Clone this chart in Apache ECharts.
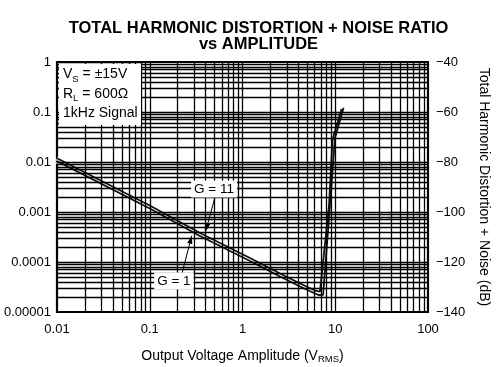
<!DOCTYPE html>
<html><head><meta charset="utf-8">
<script src="https://cdn.jsdelivr.net/npm/echarts@6/dist/echarts.min.js"></script>
<style>html,body{margin:0;padding:0;background:#fff}#c{width:502px;height:367px}</style>
</head><body><div id="c"></div>
<script>
// ---- data ----
const xTicks = [0.01, 0.1, 1, 10, 100];
const xTickLabels = ['0.01', '0.1', '1', '10', '100'];
const yTicks = [0.00001, 0.0001, 0.001, 0.01, 0.1, 1];
const yTickLabels = ['0.00001', '0.0001', '0.001', '0.01', '0.1', '1'];
const dbMin = -140, dbMax = -40, dbStep = 20;

const g11X = [0.01, 0.1, 0.348, 1.205, 2.54, 4.17, 6.05, 6.85, 7.15, 8.57, 9.33, 11.7];
const g11Y = [0.0119, 0.00135, 0.00038, 0.00012, 0.0000589, 0.0000372, 0.0000269, 0.0000255, 0.000025, 0.00138, 0.0275, 0.115];
const g1X = [0.01, 0.1, 0.348, 1.205, 2.54, 4.17, 6.05, 6.6, 7.4, 7.75, 8.78, 9.93, 12.3];
const g1Y = [0.0104, 0.001175, 0.000331, 0.000105, 0.0000513, 0.0000324, 0.0000234, 0.0000219, 0.0000221, 0.0000224, 0.00138, 0.0302, 0.122];

// annotation anchors (data units)
const annG11 = { text: 'G = 11', label: [0.493, 0.00288], tail: [0.506, 0.002], tip: [0.399, 0.000398] };
const annG1 = { text: 'G = 1', label: [0.182, 0.0000417], tail: [0.223, 0.00006], tip: [0.2855, 0.000347] };

const FONT = '"Liberation Sans", Arial, Helvetica, sans-serif';

function zip(a, b) { return a.map((v, i) => [v, b[i]]); }
function lookup(ticks, labels, v) {
  for (let i = 0; i < ticks.length; i++) {
    if (Math.abs(Math.log10(v) - Math.log10(ticks[i])) < 1e-6) return labels[i];
  }
  return '';
}
// log grid lines (major + minor 2..9), excluding plot edges
const gridX = [];
for (let d = -2; d <= 1; d++) for (let m = 1; m <= 9; m++) { if (d === -2 && m === 1) continue; gridX.push(m * Math.pow(10, d)); }
const gridY = [];
for (let d = -5; d <= -1; d++) for (let m = 1; m <= 9; m++) { if (d === -5 && m === 1) continue; gridY.push(m * Math.pow(10, d)); }

const chart = echarts.init(document.getElementById('c'), null, { renderer: 'canvas' });
const GRID = { left: 57, top: 62, width: 371, height: 250 };

const option = {
  animation: false,
  backgroundColor: '#fff',
  title: {
    text: 'TOTAL HARMONIC DISTORTION + NOISE RATIO\nvs AMPLITUDE',
    left: 258.5, top: 20, textAlign: 'center', padding: 0,
    textStyle: { fontSize: 16.5, fontWeight: 'bold', lineHeight: 16, color: '#000', fontFamily: FONT }
  },
  grid: Object.assign({ show: true, borderColor: '#000', borderWidth: 2.2, backgroundColor: 'transparent', containLabel: false, outerBoundsMode: 'none' }, GRID),
  xAxis: {
    type: 'log', logBase: 10, min: 0.01, max: 100,
    axisLine: { show: false }, axisTick: { show: false }, splitLine: { show: false },
    axisLabel: { fontSize: 13, color: '#000', fontFamily: FONT, margin: 11, formatter: v => lookup(xTicks, xTickLabels, v) },
    name: '{n|Output Voltage Amplitude (V}{s|RMS}{n|)}',
    nameLocation: 'middle', nameGap: 36,
    nameTextStyle: {
      fontFamily: FONT, color: '#000', fontSize: 14,
      rich: { n: { fontSize: 14, fontFamily: FONT, color: '#000', lineHeight: 16 },
              s: { fontSize: 9.5, fontFamily: FONT, color: '#000', lineHeight: 10, verticalAlign: 'bottom' } }
    }
  },
  yAxis: [{
    type: 'log', logBase: 10, min: 0.00001, max: 1,
    axisLine: { show: false }, axisTick: { show: false }, splitLine: { show: false },
    axisLabel: { fontSize: 13, color: '#000', fontFamily: FONT, margin: 6, formatter: v => lookup(yTicks, yTickLabels, v) }
  }, {
    type: 'value', position: 'right', min: dbMin, max: dbMax, interval: dbStep,
    axisLine: { show: false }, axisTick: { show: false }, splitLine: { show: false },
    axisLabel: { fontSize: 13, color: '#000', fontFamily: FONT, margin: 8, formatter: v => String(v).replace('-', '\u2212') },
    name: 'Total Harmonic Distortion + Noise (dB)',
    nameLocation: 'middle', nameGap: 49, nameRotate: -90,
    nameTextStyle: { fontSize: 14, color: '#000', fontFamily: FONT }
  }],
  series: [
    {
      type: 'line', name: 'grid', data: [], z: 1, silent: true,
      markLine: {
        silent: true, symbol: ['none', 'none'], animation: false, precision: 12,
        label: { show: false },
        lineStyle: { color: '#000', width: 1.3, type: 'solid', opacity: 1 },
        emphasis: { disabled: true },
        data: gridX.map(v => ({ xAxis: v })).concat(gridY.map(v => ({ yAxis: v })))
      }
    },
    { type: 'line', name: 'G = 11 halo', data: zip(g11X, g11Y), showSymbol: false, symbol: 'none', z: 2, silent: true,
      lineStyle: { color: '#fff', width: 4.5 } },
    { type: 'line', name: 'G = 1 halo', data: zip(g1X, g1Y), showSymbol: false, symbol: 'none', z: 2, silent: true,
      lineStyle: { color: '#fff', width: 4.5 } },
    { type: 'line', name: 'G = 11', data: zip(g11X, g11Y), showSymbol: false, symbol: 'none', z: 3,
      lineStyle: { color: '#111', width: 1.8 } },
    { type: 'line', name: 'G = 1', data: zip(g1X, g1Y), showSymbol: false, symbol: 'none', z: 3,
      lineStyle: { color: '#111', width: 1.8 } }
  ]
};
chart.setOption(option);

// ---- annotations positioned through the axes ----
function px(p) { return chart.convertToPixel({ xAxisIndex: 0, yAxisIndex: 0 }, p); }
function arrow(a) {
  const t = px(a.tail), h = px(a.tip);
  const dx = h[0] - t[0], dy = h[1] - t[1], L = Math.hypot(dx, dy);
  const ux = dx / L, uy = dy / L, len = 9, hw = 2.6;
  const bx = h[0] - ux * len, by = h[1] - uy * len;
  return [
    { type: 'line', shape: { x1: t[0], y1: t[1], x2: bx, y2: by }, style: { stroke: '#000', lineWidth: 1 }, z: 110, silent: true },
    { type: 'polygon', shape: { points: [h, [bx - uy * hw, by + ux * hw], [bx + uy * hw, by - ux * hw]] }, style: { fill: '#000' }, z: 110, silent: true }
  ];
}
function label(a) {
  const c = px(a.label);
  return { type: 'text', x: c[0], y: c[1], z: 112, silent: true,
    style: { text: a.text, fill: '#000', fontSize: 13.5, fontFamily: FONT, align: 'center', verticalAlign: 'middle',
             backgroundColor: '#fff', padding: [2, 3, 1, 3] } };
}
const lg = {
  type: 'group', z: 100, silent: true,
  children: [
    { type: 'rect', shape: { x: 59, y: 64, width: 82, height: 61 }, style: { fill: '#fff' }, z: 100 },
    { type: 'text', x: 63, y: 64.5, z: 101,
      style: {
        text: '{n|V}{s|S}{n| = \u00b115V}\n{n|R}{s|L}{n| = 600\u03a9}\n{n|1kHz Signal}',
        fill: '#000', fontFamily: FONT, fontSize: 14,
        rich: { n: { fontSize: 14, fontFamily: FONT, fill: '#000', lineHeight: 19.5 },
                s: { fontSize: 9.5, fontFamily: FONT, fill: '#000', lineHeight: 10, verticalAlign: 'bottom' } }
      } }
  ]
};
chart.setOption({ graphic: [lg].concat(arrow(annG11), arrow(annG1), [label(annG11), label(annG1)]) });
</script>
</body></html>
